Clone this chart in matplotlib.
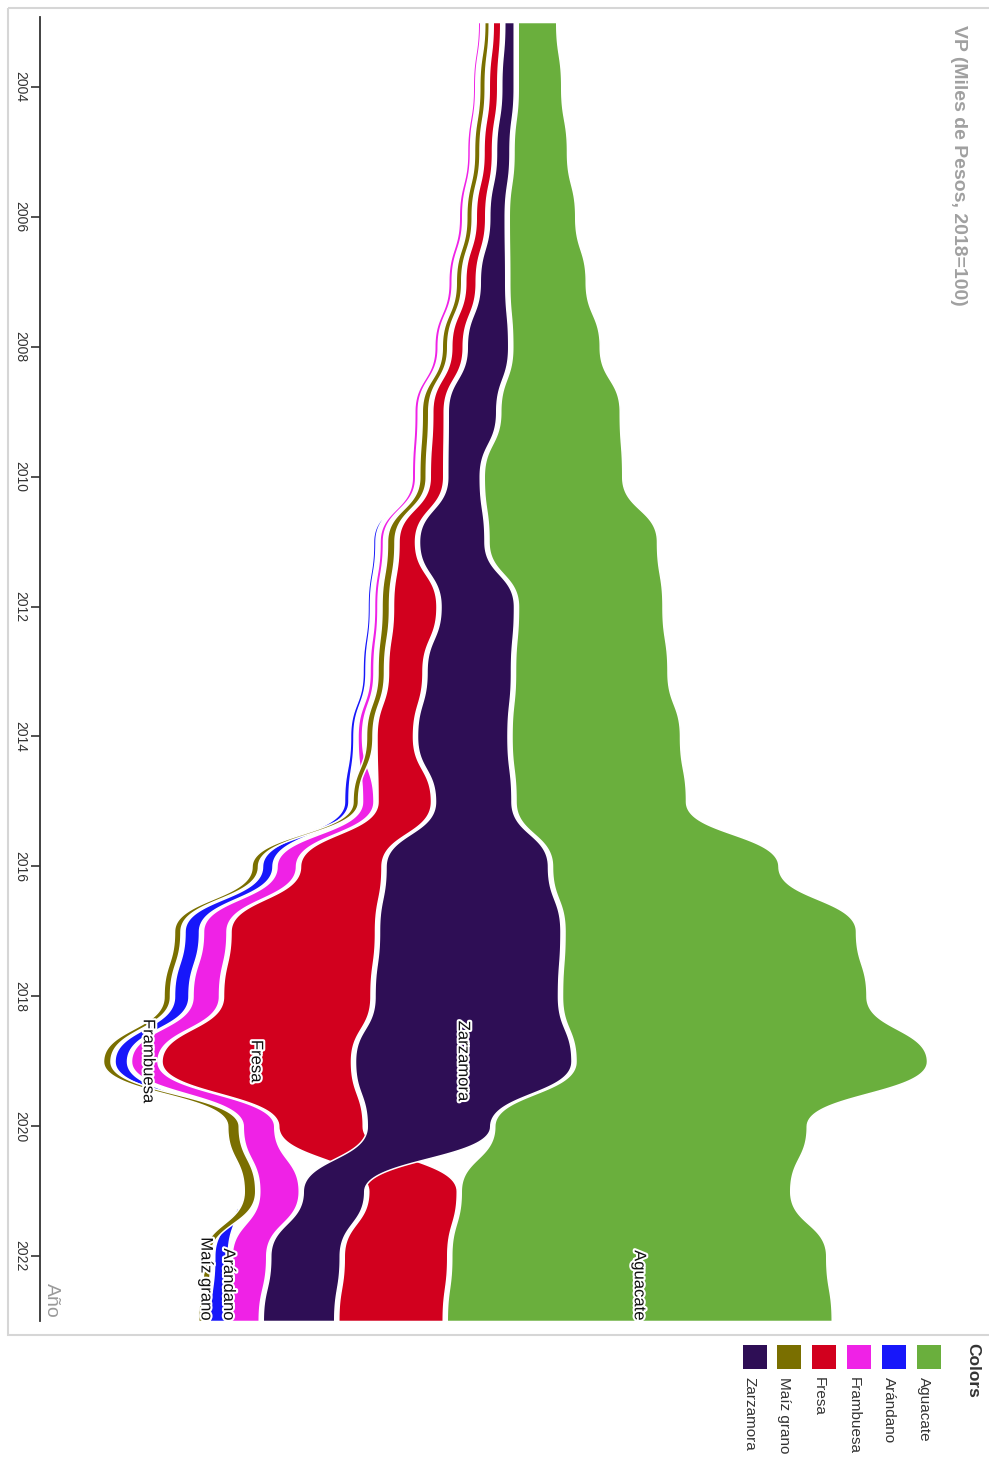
import numpy as np
import matplotlib
matplotlib.use("Agg")
import matplotlib.pyplot as plt
from matplotlib.patches import Rectangle
import matplotlib.patheffects as pe

plt.rcParams['font.family'] = ['Liberation Sans', 'DejaVu Sans']

# Valor de la producción, millones de pesos constantes (2018=100)
years = list(range(2003, 2024))
series = ["Aguacate", "Arándano", "Frambuesa", "Fresa", "Maíz grano", "Zarzamora"]

aguacate = [3850, 4350, 5350, 6650, 7650, 8750, 11950, 13850, 16850, 14450, 15250,
            16850, 17050, 22650, 29150, 30450, 35150, 31250, 32950, 37500, 38500]
arandano = [0, 0, 0, 0, 0, 0, 0, 0, 250, 250, 300,
            350, 450, 1050, 1450, 1450, 1250, 0, 0, 1350, 1550]
frambuesa = [250, 250, 300, 350, 350, 350, 350, 350, 350, 350, 400,
             450, 1150, 1950, 2350, 2650, 2650, 3150, 3950, 3450, 2950]
fresa = [750, 850, 850, 950, 1050, 1150, 1150, 1350, 1650, 4350, 3450,
         3650, 5350, 8150, 14450, 14750, 18950, 8450, 8850, 10350, 10450]
maiz_grano = [450, 550, 550, 550, 550, 550, 650, 650, 750, 750, 650,
              650, 550, 650, 650, 650, 750, 1150, 1150, 650, 750]
zarzamora = [950, 1250, 1350, 1550, 2550, 4150, 4850, 3250, 6550, 7350, 8450,
             9050, 7650, 16250, 18150, 18350, 21650, 12350, 6150, 6950, 7150]

tick_years = list(range(2004, 2023, 2))

colors = {
    "Aguacate": "#6aaf3d",
    "Arándano": "#1717fa",
    "Frambuesa": "#ef22e6",
    "Fresa": "#d2001e",
    "Maíz grano": "#7a6f00",
    "Zarzamora": "#2e0e55",
}
# year at which each stream carries its name, and a small sideways nudge (px)
label_year = {"Aguacate": 2023, "Arándano": 2023, "Frambuesa": 2019,
              "Fresa": 2019, "Maíz grano": 2023, "Zarzamora": 2019}
label_nudge = {"Arándano": 11, "Maíz grano": 4, "Frambuesa": 4}

values = np.array([aguacate, arandano, frambuesa, fresa, maiz_grano, zarzamora], float)
n_series, n_years = values.shape
PAD = 400.0  # gap between streams, same units as the values

# rank-ordered, centred stacking for every year (smallest on the left)
lo = np.zeros_like(values)
hi = np.zeros_like(values)
for j in range(n_years):
    col = values[:, j]
    order = np.argsort(col, kind="stable")
    total = col.sum() + PAD * (n_series - 1)
    x = -total / 2.0
    for k in order:
        lo[k, j] = x
        hi[k, j] = x + col[k]
        x = hi[k, j] + PAD


def bump(ts, vs, n=48):
    """Cubic 'bump' curve: flat tangent at every year, S-shaped in between."""
    out_t = [np.array([ts[0]], float)]
    out_v = [np.array([vs[0]], float)]
    s = np.linspace(0, 1, n + 1)[1:]
    b0 = (1 - s) ** 3
    b1 = 3 * (1 - s) ** 2 * s
    b2 = 3 * (1 - s) * s ** 2
    b3 = s ** 3
    for i in range(len(ts) - 1):
        t0, t1 = ts[i], ts[i + 1]
        v0, v1 = vs[i], vs[i + 1]
        tm = 0.5 * (t0 + t1)
        out_t.append(b0 * t0 + (b1 + b2) * tm + b3 * t1)
        out_v.append((b0 + b1) * v0 + (b2 + b3) * v1)
    return np.concatenate(out_t), np.concatenate(out_v)


W, H = 989, 1465
fig = plt.figure(figsize=(W / 100, H / 100), dpi=100)

# decoration layer in pixel coordinates
deco = fig.add_axes([0, 0, 1, 1])
deco.set_xlim(0, W)
deco.set_ylim(H, 0)
deco.axis("off")
deco.add_patch(Rectangle((8, 8), W, 1335 - 8, fill=False, edgecolor="#d6d6d6", lw=1.5))

# chart axes: x = value (centred), y = year (downwards)
ax_left_px, ax_right_px, ax_top_px, ax_bot_px = 40, 950, 17, 1321
center_px = 515
units_per_px = 100.0
ax = fig.add_axes([ax_left_px / W, 1 - ax_bot_px / H,
                   (ax_right_px - ax_left_px) / W, (ax_bot_px - ax_top_px) / H])
ax.patch.set_alpha(0)
ax.set_xlim((ax_left_px - center_px) * units_per_px, (ax_right_px - center_px) * units_per_px)
yr_per_px = 1.0 / 64.95
ax.set_ylim(2023, 2003 - (22 - ax_top_px) * yr_per_px)

for k, name in enumerate(series):
    t, left = bump(years, lo[k])
    _, right = bump(years, hi[k])
    ax.fill_betweenx(t, left, right, facecolor=colors[name], edgecolor="white",
                     linewidth=1.1, zorder=2 + k)

for k, name in enumerate(series):
    yr = label_year[name]
    j = years.index(yr)
    xc = 0.5 * (lo[k, j] + hi[k, j]) + label_nudge.get(name, 0) * units_per_px
    va = "bottom" if yr == years[-1] else "center"
    ax.text(xc, yr, name, rotation=-90, ha="center", va=va, fontsize=12,
            color="#111111", zorder=20,
            path_effects=[pe.withStroke(linewidth=3, foreground="white")])

for side in ["top", "right", "bottom"]:
    ax.spines[side].set_visible(False)
ax.spines["left"].set_color("#333333")
ax.spines["left"].set_linewidth(1.3)
ax.set_xticks([])
ax.set_yticks(tick_years)
ax.set_yticklabels([str(y) for y in tick_years], rotation=-90, va="center",
                   fontsize=10, color="#333333")
ax.tick_params(axis="y", length=6.5, width=1.2, color="#333333", pad=3)

deco.text(51, 1318, "Año", rotation=-90, ha="center", va="bottom",
          fontsize=14, color="#9a9a9a")
deco.text(958, 25, "VP (Miles de Pesos, 2018=100)", rotation=-90, ha="center",
          va="top", fontsize=14, fontweight="bold", color="#a0a0a0")

# legend
deco.text(973, 1343, "Colors", rotation=-90, ha="center", va="top",
          fontsize=12.5, fontweight="bold", color="#333333")
sw_x = [929, 894, 859, 824, 789, 755]
for name, xc in zip(series, sw_x):
    deco.add_patch(Rectangle((xc - 12, 1345), 24, 24, facecolor=colors[name],
                             edgecolor="none"))
    deco.text(xc - 5, 1377, name, rotation=-90, ha="center", va="top",
              fontsize=11, color="#333333")

fig.savefig("out.png", dpi=100)
